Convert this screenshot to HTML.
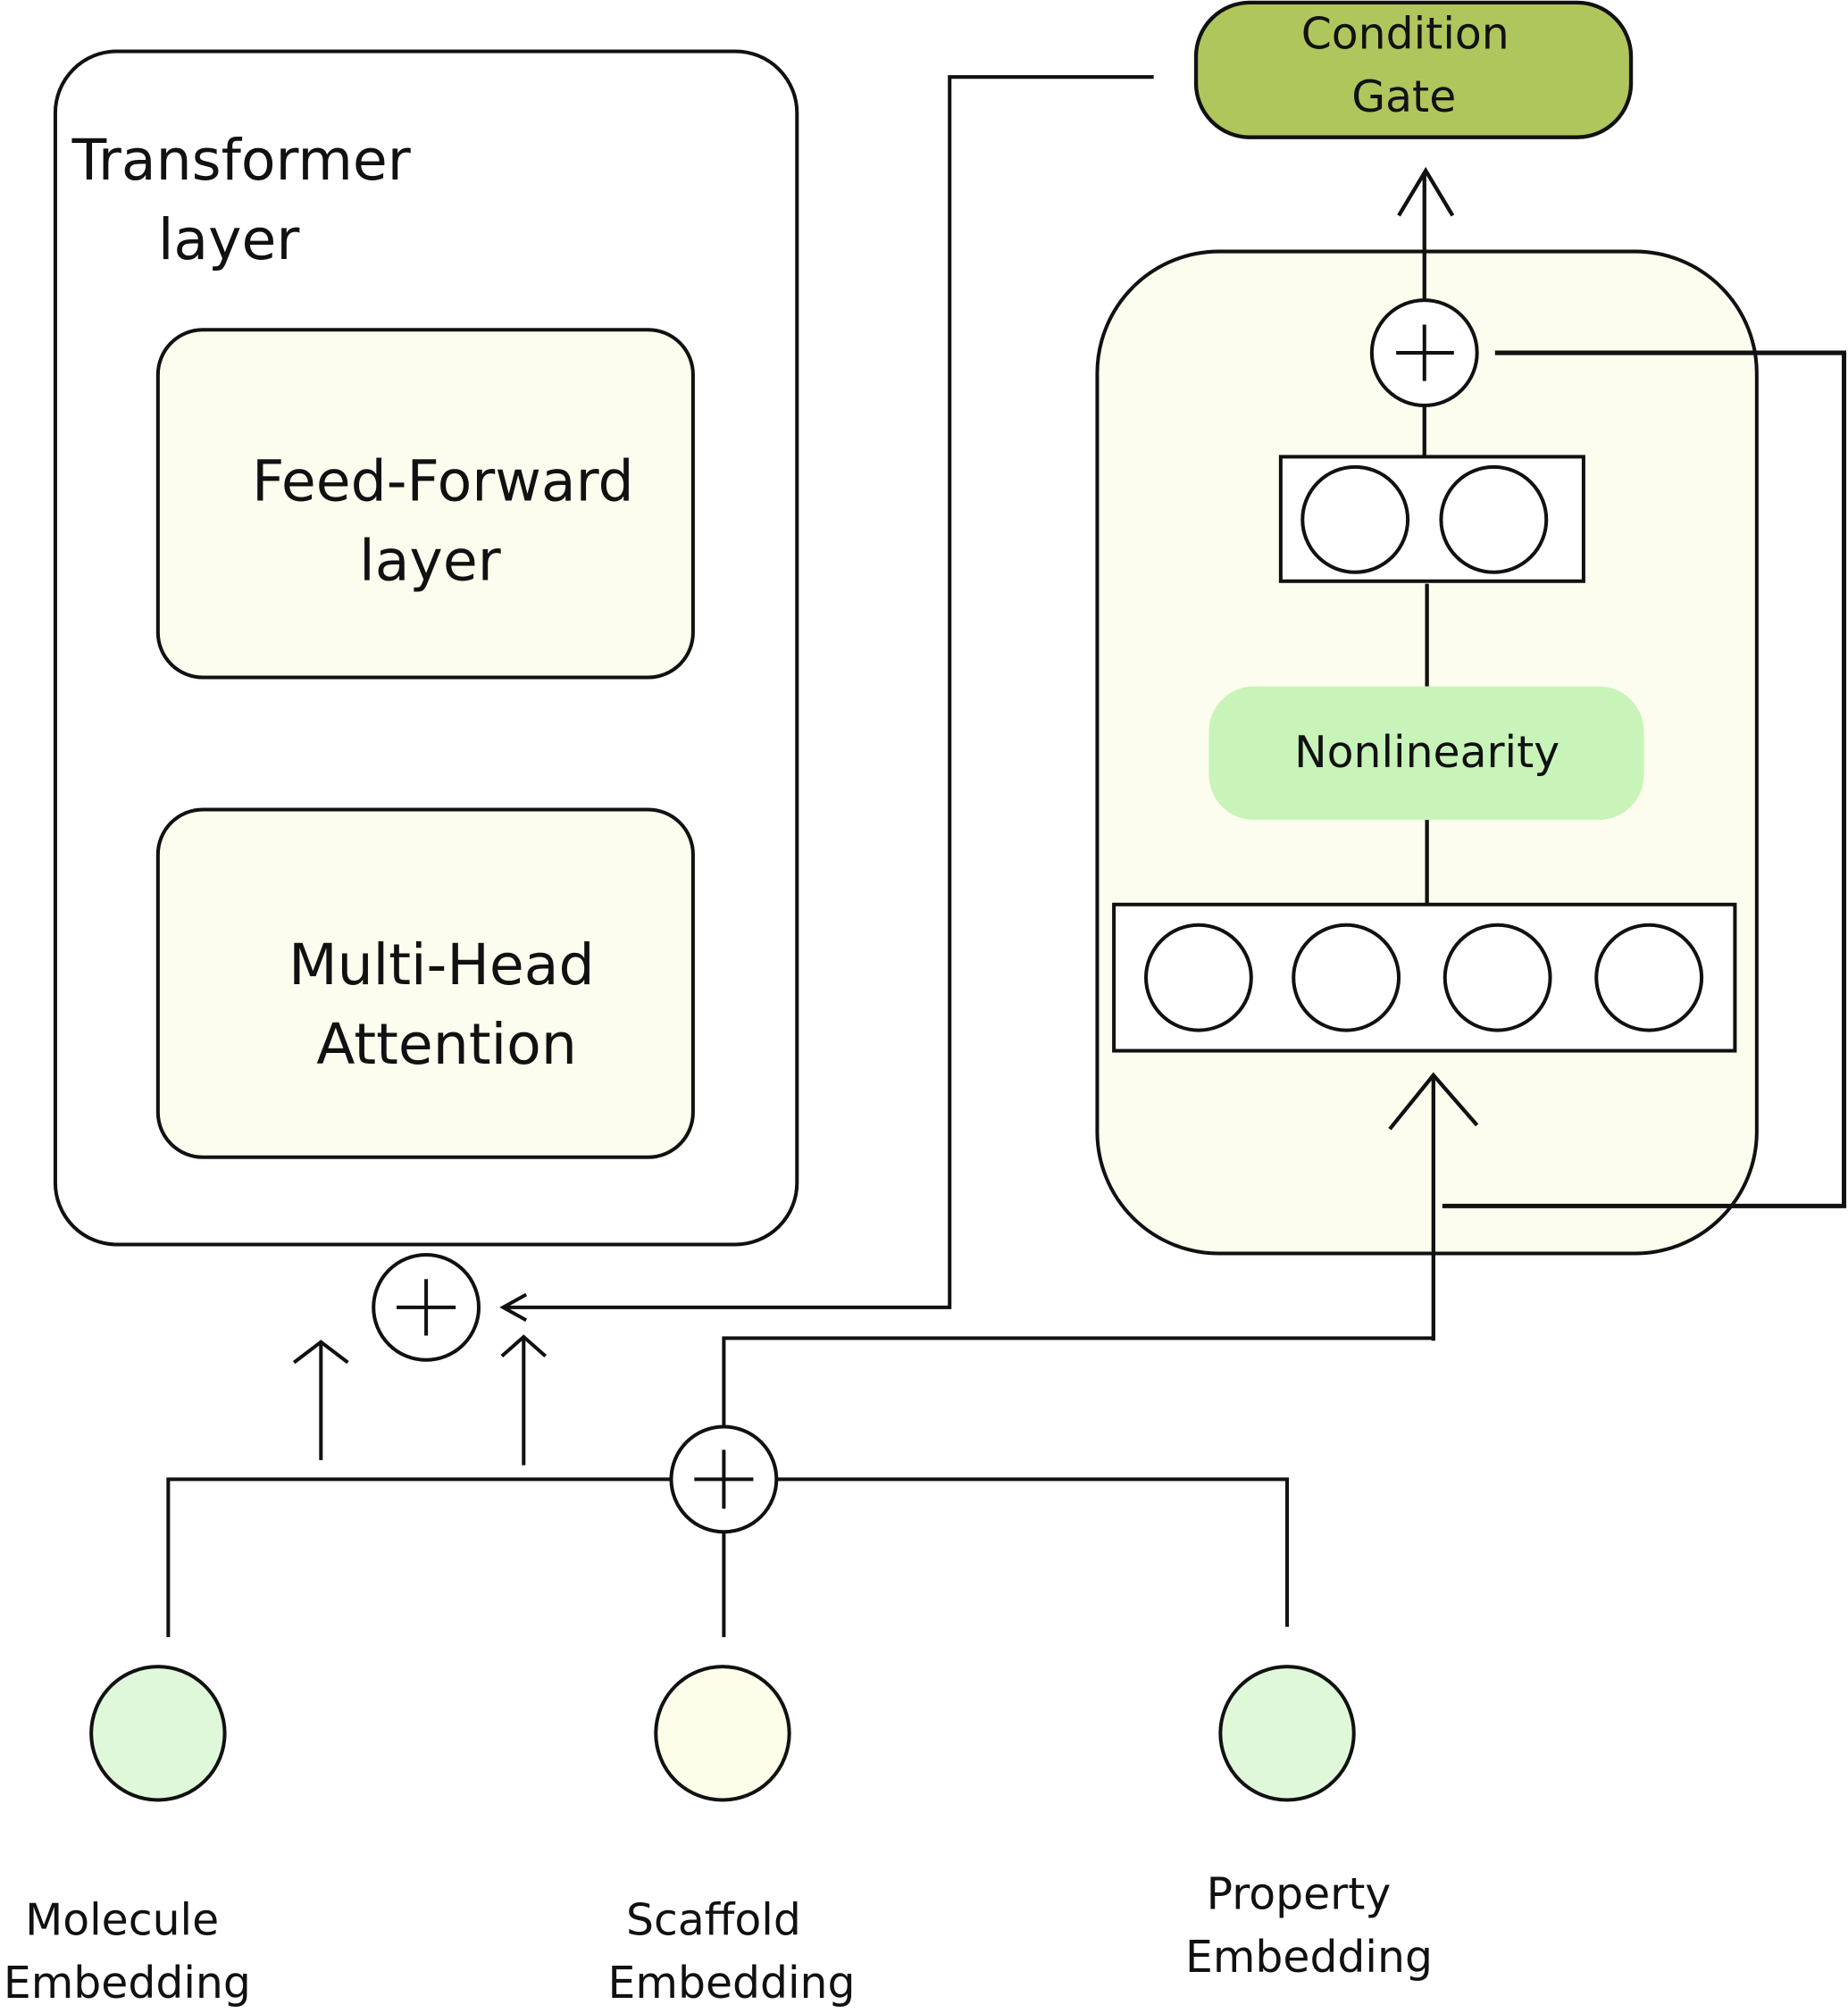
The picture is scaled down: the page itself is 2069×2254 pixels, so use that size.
<!DOCTYPE html>
<html><head><style>html,body{margin:0;padding:0;background:#fff}svg{display:block}text{font-family:"DejaVu Sans","Liberation Sans",sans-serif;fill:#111}</style></head>
<body>
<svg width="2069" height="2254" viewBox="0 0 1440 1569" xmlns="http://www.w3.org/2000/svg">
<g fill="none" stroke="#111" stroke-width="2.8">
<rect x="43" y="40" width="578" height="930" rx="48" fill="#fff"/>
<rect x="123" y="257" width="417" height="271" rx="35" fill="#fdfdef"/>
<rect x="123" y="631" width="417" height="271" rx="35" fill="#fdfdef"/>
<rect x="855" y="196" width="514" height="781" rx="95" fill="#fdfdef"/>
<rect x="932" y="2" width="339" height="105" rx="42" fill="#afc65c" stroke-width="3"/>
<line x1="1110" y1="135" x2="1110" y2="235" stroke-width="3"/>
<polyline points="1090,168 1111,133 1132,168" stroke-width="3"/>
<ellipse cx="1110" cy="275" rx="41" ry="41" fill="#fff"/>
<line x1="1110" y1="253" x2="1110" y2="297"/><line x1="1088" y1="275" x2="1133" y2="275"/>
<line x1="1110" y1="316" x2="1110" y2="356" stroke-width="3"/>
<polyline points="1165,275 1437,275 1437,940 1124,940" stroke-width="3.5"/>
<rect x="998" y="356" width="236" height="97" fill="#fff"/>
<ellipse cx="1056" cy="405" rx="41" ry="41"/><ellipse cx="1164" cy="405" rx="41" ry="41"/>
<line x1="1112" y1="455" x2="1112" y2="535" stroke-width="3"/>
<rect x="942" y="535" width="339" height="104" rx="35" fill="#c8f4b9" stroke="none"/>
<line x1="1112" y1="639" x2="1112" y2="705" stroke-width="3"/>
<rect x="868" y="705" width="484" height="114" fill="#fff"/>
<ellipse cx="934" cy="762" rx="41" ry="41"/><ellipse cx="1049" cy="762" rx="41" ry="41"/>
<ellipse cx="1167" cy="762" rx="41" ry="41"/><ellipse cx="1285" cy="762" rx="41" ry="41"/>
<line x1="1117" y1="838" x2="1117" y2="1045" stroke-width="3"/>
<polyline points="1083,880 1117,838 1151,877" stroke-width="3"/>
<polyline points="564,1112 564,1043 1117,1043"/>
<polyline points="899,60 740,60 740,1019 392,1019"/>
<polyline points="410,1009 392,1019 410,1029"/>
<circle cx="332" cy="1019" r="41" fill="#fff"/>
<line x1="332" y1="997" x2="332" y2="1041"/><line x1="309" y1="1019" x2="355" y2="1019"/>
<line x1="250" y1="1048" x2="250" y2="1138"/><polyline points="229,1062 250,1046 271,1062"/>
<line x1="408" y1="1043" x2="408" y2="1142"/><polyline points="391,1057 408,1042 425,1057"/>
<polyline points="131,1276 131,1153 523,1153"/>
<polyline points="605,1153 1003,1153 1003,1268"/>
<circle cx="564" cy="1153" r="41" fill="#fff"/>
<line x1="564" y1="1130" x2="564" y2="1176"/><line x1="541" y1="1153" x2="587" y2="1153"/>
<line x1="564" y1="1194" x2="564" y2="1276"/>
<circle cx="123" cy="1351" r="52" fill="#e0f8da"/>
<circle cx="563" cy="1351" r="52" fill="#fdfdea"/>
<circle cx="1003" cy="1351" r="52" fill="#e0f8da"/>
</g>
<g font-size="44">
<text x="56" y="140">Transformer</text>
<text x="123" y="202">layer</text>
<text x="345" y="390" text-anchor="middle">Feed-Forward</text>
<text x="335" y="452" text-anchor="middle">layer</text>
<text x="344" y="767" text-anchor="middle">Multi-Head</text>
<text x="348" y="829" text-anchor="middle">Attention</text>
</g>
<g font-size="34" text-anchor="middle">
<text x="1095" y="38">Condition</text>
<text x="1094" y="87">Gate</text>
<text x="1112" y="598">Nonlinearity</text>
<text x="95" y="1508">Molecule</text>
<text x="99" y="1557">Embedding</text>
<text x="556" y="1508">Scaffold</text>
<text x="570" y="1557">Embedding</text>
<text x="1012" y="1488">Property</text>
<text x="1020" y="1537">Embedding</text>
</g>
</svg>
</body></html>
